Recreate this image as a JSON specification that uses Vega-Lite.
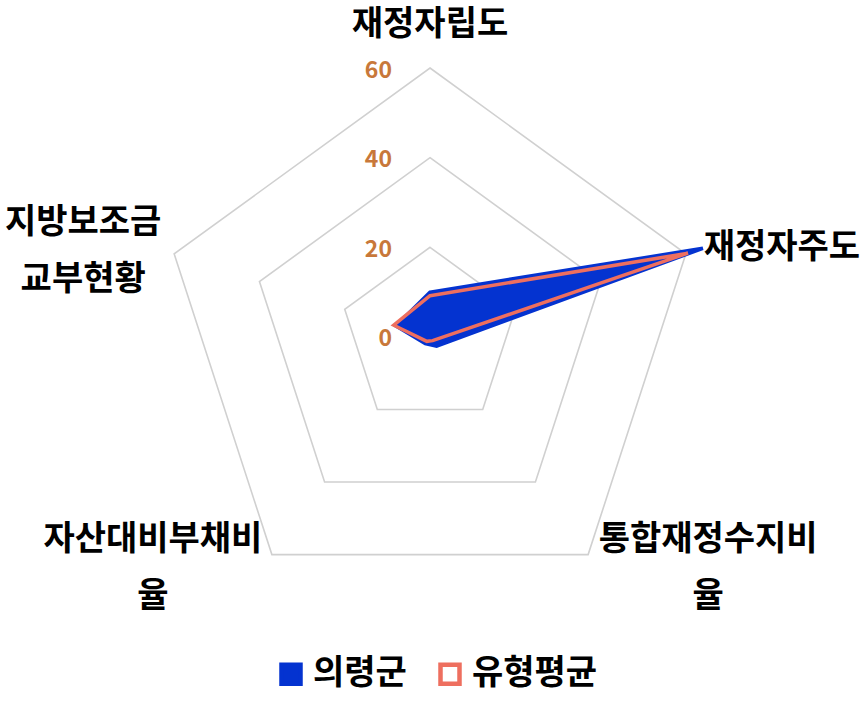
{
  "$schema": "https://vega.github.io/schema/vega-lite/v6.json",
  "width": 864,
  "height": 703,
  "autosize": "none",
  "padding": 0,
  "background": "white",
  "config": {"view": {"stroke": null}, "font": "Noto Sans CJK KR"},
  "datasets": {
    "series": [
      {"series": "의령군", "axis": "재정자립도", "k": 0, "v": 10.0},
      {"series": "의령군", "axis": "재정자주도", "k": 1, "v": 64.0},
      {"series": "의령군", "axis": "통합재정수지비율", "k": 2, "v": 2.5},
      {"series": "의령군", "axis": "자산대비부채비율", "k": 3, "v": 1.8},
      {"series": "의령군", "axis": "지방보조금교부현황", "k": 4, "v": 8.0},
      {"series": "유형평균", "axis": "재정자립도", "k": 0, "v": 9.2},
      {"series": "유형평균", "axis": "재정자주도", "k": 1, "v": 60.5},
      {"series": "유형평균", "axis": "통합재정수지비율", "k": 2, "v": 1.0},
      {"series": "유형평균", "axis": "자산대비부채비율", "k": 3, "v": 1.2},
      {"series": "유형평균", "axis": "지방보조금교부현황", "k": 4, "v": 8.5}
    ],
    "grid": [
      {"level": 20, "k": 0}, {"level": 20, "k": 1}, {"level": 20, "k": 2}, {"level": 20, "k": 3}, {"level": 20, "k": 4},
      {"level": 40, "k": 0}, {"level": 40, "k": 1}, {"level": 40, "k": 2}, {"level": 40, "k": 3}, {"level": 40, "k": 4},
      {"level": 60, "k": 0}, {"level": 60, "k": 1}, {"level": 60, "k": 2}, {"level": 60, "k": 3}, {"level": 60, "k": 4}
    ],
    "ticks": [
      {"level": 0, "label": "0"},
      {"level": 20, "label": "20"},
      {"level": 40, "label": "40"},
      {"level": 60, "label": "60"}
    ],
    "labels": [
      {"k": 0, "name": "재정자립도"},
      {"k": 1, "name": "재정자주도"},
      {"k": 2, "name": "통합재정수지비\n율"},
      {"k": 3, "name": "자산대비부채비\n율"},
      {"k": 4, "name": "지방보조금\n교부현황"}
    ]
  },
  "layer": [
    {
      "data": {"name": "grid"},
      "transform": [
        {"calculate": "datum.level * sin(datum.k * 2 * PI / 5)", "as": "px"},
        {"calculate": "datum.level * cos(datum.k * 2 * PI / 5)", "as": "py"}
      ],
      "mark": {"type": "line", "interpolate": "linear-closed", "stroke": "#d0d0d0", "strokeWidth": 1.6},
      "encoding": {
        "x": {"field": "px", "type": "quantitative", "scale": {"domain": [-95.91, 96.8], "nice": false, "zero": false}, "axis": null},
        "y": {"field": "py", "type": "quantitative", "scale": {"domain": [-81.64, 75.17], "nice": false, "zero": false}, "axis": null},
        "detail": {"field": "level", "type": "nominal"},
        "order": {"field": "k", "type": "quantitative"}
      }
    },
    {
      "data": {"name": "series"},
      "transform": [
        {"calculate": "datum.v * sin(datum.k * 2 * PI / 5)", "as": "px"},
        {"calculate": "datum.v * cos(datum.k * 2 * PI / 5)", "as": "py"}
      ],
      "mark": {"type": "line", "interpolate": "linear-closed", "strokeWidth": 3.5},
      "encoding": {
        "x": {"field": "px", "type": "quantitative", "scale": {"domain": [-95.91, 96.8], "nice": false, "zero": false}, "axis": null},
        "y": {"field": "py", "type": "quantitative", "scale": {"domain": [-81.64, 75.17], "nice": false, "zero": false}, "axis": null},
        "order": {"field": "k", "type": "quantitative"},
        "fill": {
          "field": "series", "type": "nominal",
          "scale": {"domain": ["의령군", "유형평균"], "range": ["#0433d0", "transparent"]},
          "legend": {"title": null, "orient": "none", "legendX": 274, "legendY": 657, "direction": "horizontal", "symbolType": "square", "symbolSize": 361, "symbolStrokeWidth": 4.5, "labelFontSize": 34, "labelFontWeight": "bold", "labelFont": "Noto Sans CJK KR", "labelColor": "#000000", "labelOffset": 5, "columnPadding": 24}
        },
        "stroke": {
          "field": "series", "type": "nominal",
          "scale": {"domain": ["의령군", "유형평균"], "range": ["#0433d0", "#ee6f5f"]},
          "legend": {"title": null, "orient": "none", "legendX": 274, "legendY": 657, "direction": "horizontal", "symbolType": "square", "symbolSize": 361, "symbolStrokeWidth": 4.5, "labelFontSize": 34, "labelFontWeight": "bold", "labelFont": "Noto Sans CJK KR", "labelColor": "#000000", "labelOffset": 5, "columnPadding": 24}
        }
      }
    },
    {
      "data": {"name": "ticks"},
      "transform": [
        {"calculate": "0", "as": "px"},
        {"calculate": "datum.level", "as": "py"}
      ],
      "mark": {"type": "text", "align": "right", "baseline": "middle", "dx": -38, "dy": 2.5, "fontSize": 23, "fontWeight": "bold", "color": "#c8783a"},
      "encoding": {
        "x": {"field": "px", "type": "quantitative", "scale": {"domain": [-95.91, 96.8], "nice": false, "zero": false}, "axis": null},
        "y": {"field": "py", "type": "quantitative", "scale": {"domain": [-81.64, 75.17], "nice": false, "zero": false}, "axis": null},
        "text": {"field": "label"}
      }
    },
    {
      "data": {"name": "labels"},
      "transform": [
        {"filter": "datum.k == 0"},
        {"calculate": "60 * sin(datum.k * 2 * PI / 5)", "as": "px"},
        {"calculate": "60 * cos(datum.k * 2 * PI / 5)", "as": "py"}
      ],
      "mark": {"type": "text", "align": "center", "baseline": "middle", "dx": 0, "dy": -43, "fontSize": 34, "fontWeight": "bold", "color": "#000000", "lineBreak": "\n", "lineHeight": 57},
      "encoding": {
        "x": {"field": "px", "type": "quantitative", "scale": {"domain": [-95.91, 96.8], "nice": false, "zero": false}, "axis": null},
        "y": {"field": "py", "type": "quantitative", "scale": {"domain": [-81.64, 75.17], "nice": false, "zero": false}, "axis": null},
        "text": {"field": "name"}
      }
    },
    {
      "data": {"name": "labels"},
      "transform": [
        {"filter": "datum.k == 1"},
        {"calculate": "60 * sin(datum.k * 2 * PI / 5)", "as": "px"},
        {"calculate": "60 * cos(datum.k * 2 * PI / 5)", "as": "py"}
      ],
      "mark": {"type": "text", "align": "center", "baseline": "middle", "dx": 96, "dy": -6, "fontSize": 34, "fontWeight": "bold", "color": "#000000", "lineBreak": "\n", "lineHeight": 57},
      "encoding": {
        "x": {"field": "px", "type": "quantitative", "scale": {"domain": [-95.91, 96.8], "nice": false, "zero": false}, "axis": null},
        "y": {"field": "py", "type": "quantitative", "scale": {"domain": [-81.64, 75.17], "nice": false, "zero": false}, "axis": null},
        "text": {"field": "name"}
      }
    },
    {
      "data": {"name": "labels"},
      "transform": [
        {"filter": "datum.k == 2"},
        {"calculate": "60 * sin(datum.k * 2 * PI / 5)", "as": "px"},
        {"calculate": "60 * cos(datum.k * 2 * PI / 5)", "as": "py"}
      ],
      "mark": {"type": "text", "align": "center", "baseline": "middle", "dx": 120, "dy": -15, "fontSize": 34, "fontWeight": "bold", "color": "#000000", "lineBreak": "\n", "lineHeight": 57},
      "encoding": {
        "x": {"field": "px", "type": "quantitative", "scale": {"domain": [-95.91, 96.8], "nice": false, "zero": false}, "axis": null},
        "y": {"field": "py", "type": "quantitative", "scale": {"domain": [-81.64, 75.17], "nice": false, "zero": false}, "axis": null},
        "text": {"field": "name"}
      }
    },
    {
      "data": {"name": "labels"},
      "transform": [
        {"filter": "datum.k == 3"},
        {"calculate": "60 * sin(datum.k * 2 * PI / 5)", "as": "px"},
        {"calculate": "60 * cos(datum.k * 2 * PI / 5)", "as": "py"}
      ],
      "mark": {"type": "text", "align": "center", "baseline": "middle", "dx": -119, "dy": -15, "fontSize": 34, "fontWeight": "bold", "color": "#000000", "lineBreak": "\n", "lineHeight": 57},
      "encoding": {
        "x": {"field": "px", "type": "quantitative", "scale": {"domain": [-95.91, 96.8], "nice": false, "zero": false}, "axis": null},
        "y": {"field": "py", "type": "quantitative", "scale": {"domain": [-81.64, 75.17], "nice": false, "zero": false}, "axis": null},
        "text": {"field": "name"}
      }
    },
    {
      "data": {"name": "labels"},
      "transform": [
        {"filter": "datum.k == 4"},
        {"calculate": "60 * sin(datum.k * 2 * PI / 5)", "as": "px"},
        {"calculate": "60 * cos(datum.k * 2 * PI / 5)", "as": "py"}
      ],
      "mark": {"type": "text", "align": "center", "baseline": "middle", "dx": -91, "dy": -31, "fontSize": 34, "fontWeight": "bold", "color": "#000000", "lineBreak": "\n", "lineHeight": 57},
      "encoding": {
        "x": {"field": "px", "type": "quantitative", "scale": {"domain": [-95.91, 96.8], "nice": false, "zero": false}, "axis": null},
        "y": {"field": "py", "type": "quantitative", "scale": {"domain": [-81.64, 75.17], "nice": false, "zero": false}, "axis": null},
        "text": {"field": "name"}
      }
    }
  ]
}
